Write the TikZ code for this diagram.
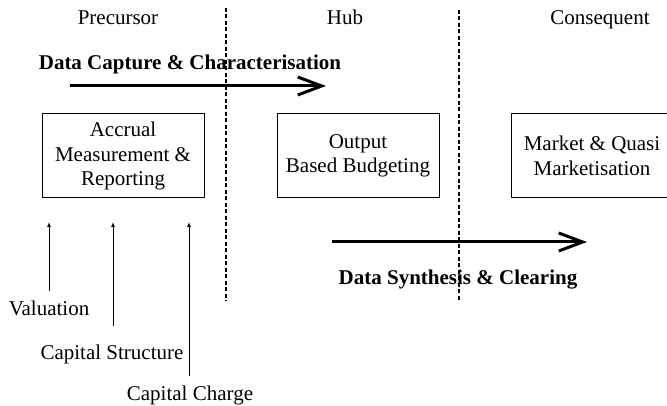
\documentclass[tikz,border=0pt]{standalone}
\usepackage{fontspec}
\setmainfont{Liberation Serif}
\usetikzlibrary{arrows.meta,positioning}

\begin{document}
\begin{tikzpicture}[x=1pt, y=-1pt, line width=1pt, node distance=72pt,
    font=\fontsize{21}{24.5}\selectfont]
    \tikzstyle{phase}=[draw=black, align=center, minimum width=162pt, minimum height=84pt, inner sep=0pt]
    \tikzstyle{stage}=[anchor=base, inner sep=0pt]
    \tikzstyle{flowlbl}=[stage, font=\fontsize{21}{24.5}\selectfont\bfseries]
    \tikzstyle{flow}=[line width=3pt, -{Straight Barb[length=24pt, width=18pt]}]
    \tikzstyle{feed}=[-{Latex[length=5pt, width=4pt]}]
    \tikzstyle{divider}=[dash pattern=on 4pt off 2.5pt, line width=1.3pt]
    \useasboundingbox (0,0) rectangle (667,406);
    \node[stage]    (prec)    at (118,25)  {Precursor};
    \node[stage]    (hub)     at (345,25)  {Hub};
    \node[stage]    (cons)    at (600,25)  {Consequent};
    \node[flowlbl]  (capture) at (190,70)  {Data Capture \& Characterisation};
    \node[phase]    (accrual) at (123,156) {Accrual\\Measurement \&\\Reporting};
    \node[phase]    (obb)     [right = of accrual]     {Output\\Based Budgeting};
    \node[phase]    (market)  [right = 71pt of obb]    {Market \& Quasi\\Marketisation};
    \node[flowlbl]  (synth)   at (458,285) {Data Synthesis \& Clearing};
    \node[stage]    (val)     at (49,316)  {Valuation};
    \node[stage]    (capstr)  at (112,359) {Capital Structure};
    \node[stage]    (capchg)  at (190,400) {Capital Charge};
    \coordinate (capS) at (70,86);
    \coordinate (capE) at (326,86);
    \coordinate (synS) at (332,242);
    \coordinate (synE) at (587,242);
    \coordinate (feedtop) at (0,222);
    \coordinate (d1a) at (226,8);
    \coordinate (d1b) at (226,301);
    \coordinate (d2a) at (459,10);
    \coordinate (d2b) at (459,301);
    \draw[divider] (d1a) -- (d1b);
    \draw[divider] (d2a) -- (d2b);
    \draw[flow] (capS) -- (capE);
    \draw[flow] (synS) -- (synE);
    \draw[feed, shorten <=9.5pt] (val.north) -- (val.north |- feedtop);
    \draw[feed, shorten <=17.5pt] ([xshift=1pt]capstr.north) -- ([xshift=1pt]capstr.north |- feedtop);
    \draw[feed, shorten <=8.5pt] ([xshift=-1pt]capchg.north) -- ([xshift=-1pt]capchg.north |- feedtop);
\end{tikzpicture}
\end{document}
